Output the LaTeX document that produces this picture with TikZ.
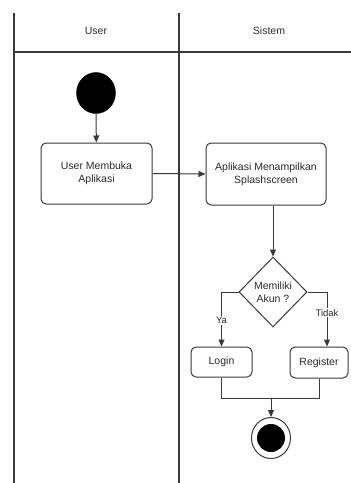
\documentclass[tikz,border=0pt]{standalone}
\usepackage{fontspec}
\setmainfont{Liberation Sans}
\usetikzlibrary{shapes.geometric,arrows.meta,calc}
\definecolor{ln}{HTML}{3A3A3A}
\definecolor{tx}{HTML}{2A2A2A}
\tikzset{
  lane/.style={draw=ln, line width=1.1pt},
  actbox/.style={draw=ln, line width=1pt, rounded corners=5pt, align=center, text=tx,
    font=\fontsize{10.5}{13}\selectfont, inner sep=0pt},
  decbox/.style={draw=ln, line width=1pt, diamond, align=center, text=tx,
    font=\fontsize{10.5}{13}\selectfont, inner sep=0pt, minimum width=68pt, minimum height=70pt},
  flow/.style={draw=ln, line width=1pt, -{Triangle[length=7pt,width=6pt]}},
  plain/.style={draw=ln, line width=1pt},
  lbl/.style={fill=white, text=tx, font=\fontsize{9.5}{11}\selectfont, inner sep=1pt},
  hdr/.style={text=tx, font=\fontsize{10.5}{13}\selectfont}
}
\begin{document}
\begin{tikzpicture}[x=1pt,y=-1pt]
\useasboundingbox (0,0) rectangle (351,483);
\fill[white] (0,0) rectangle (351,483);
% swimlanes
\coordinate (tl) at (14,13);
\coordinate (bl) at (14,483);
\coordinate (tm) at (179,13);
\coordinate (bm) at (179,483);
\coordinate (hl) at (14,52);
\coordinate (hr) at (351,52);
\draw[lane] (tl) -- (bl);
\draw[lane] (tm) -- (bm);
\draw[lane] (hl) -- (hr);
\node[hdr] (h1) at (96,31) {User};
\node[hdr] (h2) at (269,31) {Sistem};
% nodes
\node[draw=black, fill=black, ellipse, minimum width=39pt, minimum height=41pt, inner sep=0pt] (start) at (96,93) {};
\node[actbox, minimum width=111pt, minimum height=61pt] (a1) at (96.5,173.5) {User Membuka\\Aplikasi};
\node[actbox, minimum width=120pt, minimum height=62pt] (a2) at (266,174) {Aplikasi Menampilkan\\Splashscreen};
\node[decbox] (dec) at (273,292) {Memiliki\\Akun ?};
\node[actbox, minimum width=61pt, minimum height=30pt] (login) at (221.5,362) {Login};
\node[actbox, minimum width=58pt, minimum height=31pt] (reg) at (319,362.5) {Register};
\node[draw=ln, line width=1pt, fill=white, ellipse, minimum width=39pt, minimum height=41pt, inner sep=0pt] (end) at (271,438) {};
\node[fill=black, circle, minimum size=28pt, inner sep=0pt] (endin) at (end.center) {};
% connectors
\draw[flow] (start) -- (a1);
\draw[flow] (a1.east) -- (a2.west);
\draw[flow] (dec.north |- a2.south) -- (dec.north);
\draw[flow] (dec.west) -| (login.north) node[lbl, pos=0.76] (ya) {Ya};
\coordinate (regin) at ($(reg.north)+(8,0)$);
\draw[flow] (dec.east) -| (regin) node[lbl, pos=0.69] (tidak) {Tidak};
\coordinate (m) at (271,398);
\draw[plain] (login.south) |- (m);
\draw[plain] (reg.south) |- (m);
\draw[flow] (m) -- (end.north);
\end{tikzpicture}
\end{document}
